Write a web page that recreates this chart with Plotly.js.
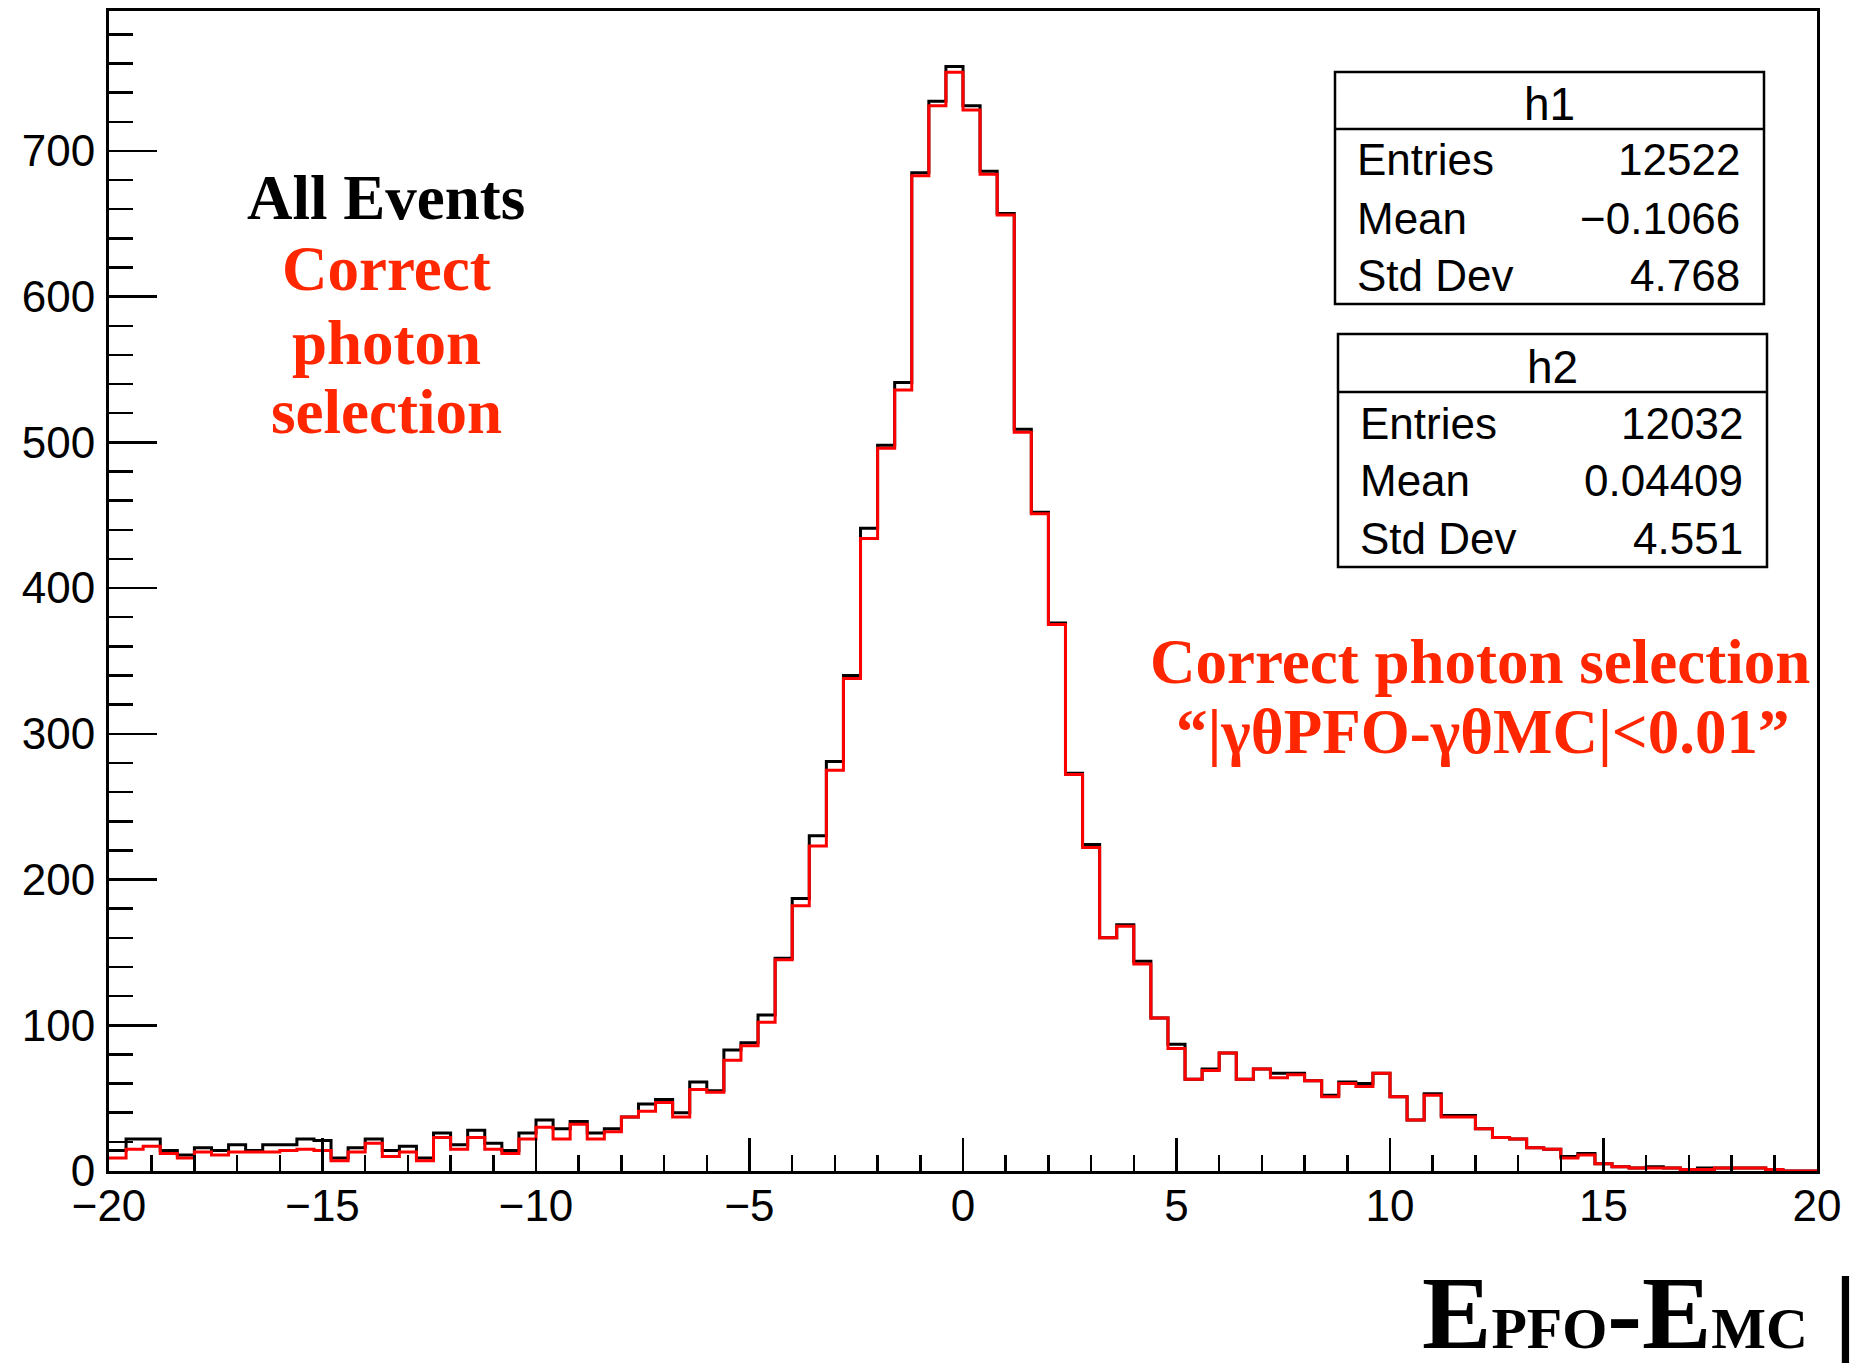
<!DOCTYPE html>
<html><head><meta charset="utf-8">
<script src="https://cdn.plot.ly/plotly-3.0.1.min.js"></script>
<style>html,body{margin:0;padding:0;background:#fff;}#chart{width:1856px;height:1363px;}</style>
</head><body><div id="chart"></div>
<script>
// ---- data ----
const xMin = -20;
const binWidth = 0.4;
const h1Counts = [14,22,22,14,11,16,14,18,14,18,18,22,21,9,16,22,14,17,9,26,
  18,28,19,14,26,35,29,34,26,29,37,46,49,40,61,55,83,88,107,146,
  187,230,281,340,441,498,541,685,734,758,731,686,657,509,452,376,273,224,160,169,
  144,105,87,63,70,81,63,70,67,67,62,52,61,60,67,51,35,53,38,38,
  29,23,22,16,15,10,12,5,3,2,3,2,1,2,2,2,2,1,0,0];
const h2Counts = [9,15,17,12,9,13,11,13,13,13,14,15,14,7,13,19,10,13,7,23,
  15,23,15,12,22,30,22,32,22,27,37,41,47,37,56,54,76,86,102,145,
  182,223,275,338,434,496,536,683,731,754,728,684,656,507,451,375,272,222,160,168,
  142,105,84,63,69,81,63,70,64,66,62,51,60,58,67,51,35,52,37,37,
  29,23,22,16,15,9,11,5,3,2,2,2,1,1,2,2,2,1,0,0];
const statLabels = ['Entries', 'Mean', 'Std Dev'];
const h1Name = 'h1';
const h1Stats = ['12522', '\u22120.1066', '4.768'];
const h2Name = 'h2';
const h2Stats = ['12032', '0.04409', '4.551'];
const leftLabels = ['All Events', 'Correct', 'photon', 'selection'];
const rightLabels = ['Correct photon selection', '\u201c|\u03b3\u03b8PFO-\u03b3\u03b8MC|&lt;0.01\u201d'];
const xTitleParts = ['E', 'PFO', '-', 'E', 'MC', ' |'];

// ---- helpers ----
function stepTrace(counts, color) {
  const xs = [], ys = [];
  for (let i = 0; i < counts.length; i++) { xs.push(xMin + i * binWidth); ys.push(counts[i]); }
  xs.push(xMin + counts.length * binWidth); ys.push(counts[counts.length - 1]);
  return {type: 'scatter', mode: 'lines', x: xs, y: ys,
    line: {shape: 'hv', color: color, width: 3}, hoverinfo: 'skip', showlegend: false};
}
const L = 109, R = 1817, T = 11, B = 1171;
const xp = X => (X - L) / (R - L);
const yp = Y => (B - Y) / (B - T);

const shapes = [];
const annotations = [];
function textAnn(txt, X, Yc, size, family, color, xanchor, bold) {
  annotations.push({xref: 'paper', yref: 'paper', x: xp(X), y: yp(Yc), text: bold ? '<b>' + txt + '</b>' : txt,
    showarrow: false, xanchor: xanchor, yanchor: 'middle', borderpad: 0,
    font: {family: family, size: size, color: color}});
}
const SANS = 'Liberation Sans, Arial, sans-serif';
const SERIF = 'Liberation Serif, Times New Roman, serif';
const RED_TXT = '#ff2600';
function statsBox(name, vals, x0, x1, y0, y1, yLine, yHead, yRows, xLab, xVal) {
  shapes.push({type: 'rect', xref: 'paper', yref: 'paper', x0: xp(x0), x1: xp(x1), y0: yp(y1), y1: yp(y0),
    line: {color: 'black', width: 2.5}, fillcolor: 'white', layer: 'above'});
  shapes.push({type: 'line', xref: 'paper', yref: 'paper', x0: xp(x0), x1: xp(x1), y0: yp(yLine), y1: yp(yLine),
    line: {color: 'black', width: 2.5}, layer: 'above'});
  textAnn(name, (x0 + x1) / 2, yHead, 46, SANS, 'black', 'center', false);
  for (let i = 0; i < statLabels.length; i++) {
    textAnn(statLabels[i], xLab, yRows[i], 44, SANS, 'black', 'left', false);
    textAnn(vals[i], xVal, yRows[i], 44, SANS, 'black', 'right', false);
  }
}

statsBox(h1Name, h1Stats, 1335, 1764, 72, 304, 129, 104, [159.6, 218, 275.3], 1356, 1741);
statsBox(h2Name, h2Stats, 1338, 1767, 334, 567, 392, 366.6, [423, 480.6, 538], 1359, 1744);

textAnn(leftLabels[0], 386, 198, 63, SERIF, 'black', 'center', true);
textAnn(leftLabels[1], 386, 268.7, 63, SERIF, RED_TXT, 'center', true);
textAnn(leftLabels[2], 386, 342.7, 63, SERIF, RED_TXT, 'center', true);
textAnn(leftLabels[3], 386, 412, 63, SERIF, RED_TXT, 'center', true);
textAnn(rightLabels[0], 1480, 662, 63, SERIF, RED_TXT, 'center', true);
textAnn(rightLabels[1], 1483, 732, 63, SERIF, RED_TXT, 'center', true);

const small = s => '<span style="font-size:58px">' + s + '</span>';
const xTitle = xTitleParts[0] + small(xTitleParts[1]) + xTitleParts[2] + xTitleParts[3] + small(xTitleParts[4]) + xTitleParts[5];
textAnn(xTitle, 1421, 1312, 104, SERIF, 'black', 'left', true);

const axisCommon = {
  showgrid: false, zeroline: false, showline: true, linecolor: 'black', linewidth: 3, mirror: true,
  ticks: 'inside', tickcolor: 'black', tickwidth: 2.5,
  tickfont: {family: SANS, size: 44, color: 'black'}
};
const layout = {
  width: 1856, height: 1363,
  margin: {l: L, r: 1856 - R, t: T, b: 1363 - B, pad: 0},
  paper_bgcolor: 'white', plot_bgcolor: 'white',
  showlegend: false,
  xaxis: Object.assign({}, axisCommon, {range: [-20, 20], dtick: 5, tick0: 0, ticklen: 33, ticklabelstandoff: -6,
    minor: {dtick: 1, ticklen: 16, tickwidth: 2.5, ticks: 'inside', tickcolor: 'black'}}),
  yaxis: Object.assign({}, axisCommon, {range: [0, 796], dtick: 100, tick0: 0, ticklen: 48, ticklabelstandoff: 2,
    minor: {dtick: 20, ticklen: 24, tickwidth: 2.5, ticks: 'inside', tickcolor: 'black'}}),
  shapes: shapes,
  annotations: annotations
};
Plotly.newPlot('chart', [stepTrace(h1Counts, '#000000'), stepTrace(h2Counts, '#ff0000')], layout,
  {staticPlot: true, displayModeBar: false});
</script>
</body></html>
